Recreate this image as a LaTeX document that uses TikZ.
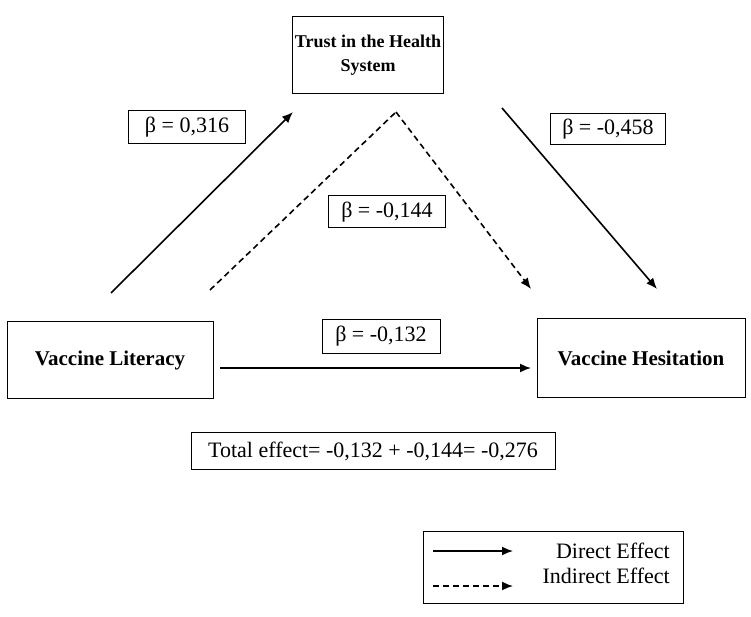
\documentclass[tikz,border=0pt]{standalone}
\usepackage{fontspec}
\setmainfont{Liberation Serif}
\usetikzlibrary{arrows.meta}
\tikzset{
  varbox/.style = {draw, line width=1pt, font=\fontsize{21}{25}\selectfont\bfseries, align=center},
  betabox/.style = {draw, line width=1pt, inner sep=0pt},
  effect/.style = {line width=1.6pt, -{Latex[length=11pt, width=9pt]}},
  effectind/.style = {line width=1.6pt, dash pattern=on 6pt off 4pt, -{Latex[length=11pt, width=9pt]}}
}

\begin{document}
\begin{tikzpicture}[x=1pt, y=-1pt, font=\fontsize{22}{26}\selectfont]

    \useasboundingbox (0,0) rectangle (751,617);

    % variables
    \node (trust) [varbox, font=\fontsize{18}{24}\selectfont\bfseries, inner sep=0pt, minimum width=151, minimum height=77] at (368,55) {Trust in the Health\\System};
    \node (lit) [varbox, minimum width=206, minimum height=77] at (110,360) {Vaccine Literacy};
    \node (hes) [varbox, minimum width=208, minimum height=79] at (641,358) {Vaccine Hesitation};

    % coefficients
    \node (ba) [betabox, minimum width=117, minimum height=33] at (187,127) {β = 0,316};
    \node (bb) [betabox, minimum width=115, minimum height=31] at (608,129) {β = -0,458};
    \node (bab) [betabox, minimum width=117, minimum height=32] at (387,212) {β = -0,144};
    \node (bc) [betabox, minimum width=118, minimum height=34] at (381,336) {β = -0,132};
    \node (total) [betabox, minimum width=364, minimum height=37] at (373,451) {Total effect= -0,132 + -0,144= -0,276};

    % paths
    \coordinate (aS) at (111,293);
    \coordinate (aE) at (293,112);
    \coordinate (bS) at (502,108);
    \coordinate (bE) at (657,289);
    \coordinate (iS) at (210,290);
    \coordinate (iM) at (396,112);
    \coordinate (iE) at (531,289);
    \coordinate (cS) at (220,368);
    \coordinate (cE) at (531,368);
    \draw[effect] (aS) -- (aE);
    \draw[effect] (bS) -- (bE);
    \draw[line width=1.6pt, dash pattern=on 6pt off 4pt] (iS) -- (iM);
    \draw[effectind] (iM) -- (iE);
    \draw[effect] (cS) -- (cE);

    % legend
    \node (legend) [draw, line width=1pt, minimum width=260, minimum height=72] at (553,567) {};
    \coordinate (dS) at (433,551);
    \coordinate (dE) at (513,551);
    \coordinate (nS) at (433,586);
    \coordinate (nE) at (513,586);
    \draw[effect] (dS) -- (dE);
    \draw[effectind] (nS) -- (nE);
    \node (dtext) [anchor=east, inner sep=0pt] at (670,551) {Direct Effect};
    \node (ntext) [anchor=east, inner sep=0pt] at (670,576) {Indirect Effect};

\end{tikzpicture}
\end{document}
